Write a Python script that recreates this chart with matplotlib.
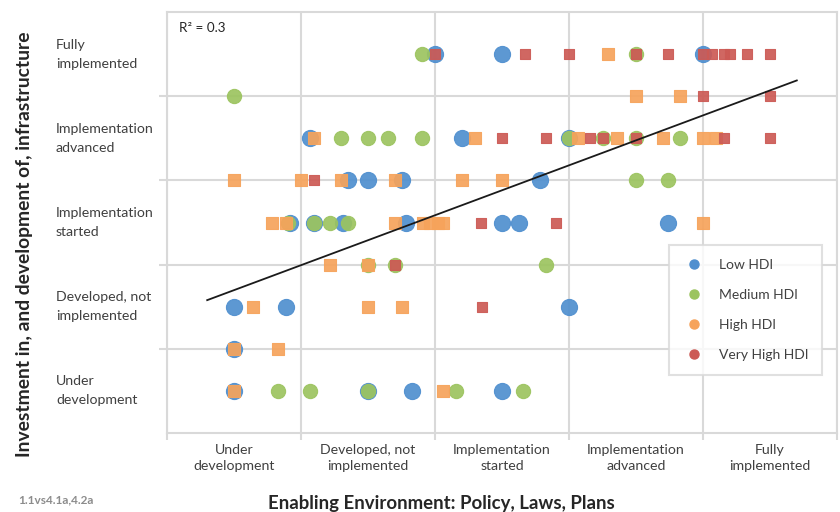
import matplotlib
matplotlib.use("Agg")
import matplotlib.pyplot as plt
from matplotlib.lines import Line2D

plt.rcParams['font.family'] = ['Lato', 'DejaVu Sans']

# category names (0.5 .. 4.5 on both axes)
x_cats = ["Under\ndevelopment", "Developed, not\nimplemented", "Implementation\nstarted",
          "Implementation\nadvanced", "Fully\nimplemented"]
y_cats = ["Under\ndevelopment", "Developed, not\nimplemented", "Implementation\nstarted",
          "Implementation\nadvanced", "Fully\nimplemented"]
cat_pos = [0.5, 1.5, 2.5, 3.5, 4.5]

# scores
low_x = [2.0, 2.5, 4.0,
         1.07, 2.2, 3.0,
         1.35, 1.5, 1.75, 2.78,
         0.92, 1.1, 1.31, 1.78, 2.5, 2.63, 3.74,
         0.5, 0.89, 3.0,
         0.5,
         0.5, 1.5, 1.83, 2.5]
low_y = [4.5, 4.5, 4.5,
         3.5, 3.5, 3.5,
         3.0, 3.0, 3.0, 3.0,
         2.5, 2.5, 2.5, 2.5, 2.5, 2.5, 2.5,
         1.5, 1.5, 1.5,
         1.0,
         0.5, 0.5, 0.5, 0.5]

med_x = [1.9, 3.5,
         0.5,
         1.3, 1.5, 1.65, 1.9, 3.0, 3.25, 3.5, 3.83,
         3.5, 3.74,
         0.9, 1.1, 1.22, 1.35,
         1.5, 1.7, 2.83,
         0.83, 1.07, 1.5, 2.16, 2.66]
med_y = [4.5, 4.5,
         4.0,
         3.5, 3.5, 3.5, 3.5, 3.5, 3.5, 3.5, 3.5,
         3.0, 3.0,
         2.5, 2.5, 2.5, 2.5,
         2.0, 2.0, 2.0,
         0.5, 0.5, 0.5, 0.5, 0.5]

high_x = [3.29,
          3.5, 3.83,
          1.1, 2.3, 3.07, 3.36, 3.7, 4.0, 4.1,
          0.5, 1.0, 1.3, 1.7, 2.2, 2.5,
          0.78, 0.89, 1.7, 1.91, 1.96, 2.02, 2.06, 4.0,
          1.22, 1.5,
          0.64, 1.5, 1.75,
          0.5, 0.83,
          0.5, 2.06]
high_y = [4.5,
          4.0, 4.0,
          3.5, 3.5, 3.5, 3.5, 3.5, 3.5, 3.5,
          3.0, 3.0, 3.0, 3.0, 3.0, 3.0,
          2.5, 2.5, 2.5, 2.5, 2.5, 2.5, 2.5, 2.5,
          2.0, 2.0,
          1.5, 1.5, 1.5,
          1.0, 1.0,
          0.5, 0.5]

vhigh_x = [2.0, 2.67, 3.0, 3.5, 3.74, 4.0, 4.07, 4.16, 4.2, 4.33, 4.5,
           4.0, 4.5,
           2.5, 2.83, 3.16, 3.25, 3.5, 4.16, 4.5,
           1.1,
           2.34, 2.9,
           1.7,
           2.35]
vhigh_y = [4.5, 4.5, 4.5, 4.5, 4.5, 4.5, 4.5, 4.5, 4.5, 4.5, 4.5,
           4.0, 4.0,
           3.5, 3.5, 3.5, 3.5, 3.5, 3.5, 3.5,
           3.0,
           2.5, 2.5,
           2.0,
           1.5]

# linear trend
trend_slope = 0.593
trend_icpt = 1.40
trend_x = [0.3, 4.7]
r2_text = "R² = 0.3"

series = [
    ("Low HDI", low_x, low_y, "#4f8fcf", "o", 135),
    ("Medium HDI", med_x, med_y, "#9cc45f", "o", 105),
    ("High HDI", high_x, high_y, "#f6a35b", "s", 75),
    ("Very High HDI", vhigh_x, vhigh_y, "#cc5a55", "s", 50),
]

fig = plt.figure(figsize=(8.4, 5.12), dpi=100)
ax = fig.add_axes([167 / 840, 79 / 512, 670 / 840, 421 / 512])

for name, xs, ys, col, mk, sz in series:
    ax.scatter(xs, ys, s=sz, c=col, marker=mk, edgecolors=col, linewidths=0.8,
               alpha=0.92, zorder=3)

ty = [trend_slope * v + trend_icpt for v in trend_x]
ax.plot(trend_x, ty, color="#1a1a1a", lw=1.3, zorder=4)

ax.set_xlim(0, 5)
ax.set_ylim(0, 5)

grid_col = "#d9d9d9"
ax.set_xticks([0, 1, 2, 3, 4, 5])
ax.set_yticks([1, 2, 3, 4])
ax.set_xticklabels([])
ax.set_yticklabels([])
ax.set_xticks(cat_pos, minor=True)
ax.set_yticks(cat_pos, minor=True)
ax.set_xticklabels(x_cats, minor=True, fontsize=10.2, color="#404040", linespacing=1.38)
ax.set_yticklabels(y_cats, minor=True, fontsize=10.2, color="#404040", linespacing=1.7,
                   ha="left", va="center")
ax.tick_params(axis="x", which="major", length=5, color=grid_col, width=1.5)
ax.tick_params(axis="y", which="major", length=6, color=grid_col, width=1.5)
ax.tick_params(axis="x", which="minor", length=0, pad=8)
ax.tick_params(axis="y", which="minor", length=0, pad=80)
ax.grid(True, which="major", color=grid_col, lw=1.5, zorder=0)
ax.set_axisbelow(True)
for sp in ax.spines.values():
    sp.set_color(grid_col)
    sp.set_linewidth(1.5)

ax.text(179, 484, r2_text, transform=None, fontsize=9.7, color="#262626",
        va="center", ha="left")

handles = [Line2D([], [], ls="", marker="o", ms=6.5, color=c) for _, _, _, c, _, _ in series]
leg = fig.legend(handles, [s[0] for s in series], loc="lower right",
                 bbox_to_anchor=(822 / 840, 137 / 512), fontsize=10,
                 frameon=True, fancybox=False, edgecolor=grid_col,
                 labelspacing=1.3, handletextpad=1.0, borderpad=1.0,
                 handlelength=1.6, borderaxespad=0)
leg.get_frame().set_linewidth(1.5)
for t in leg.get_texts():
    t.set_color("#404040")

fig.text(441 / 840, 8 / 512, "Enabling Environment: Policy, Laws, Plans",
         ha="center", va="center", fontsize=13.4, fontweight="bold", color="#262626")
fig.text(25 / 840, 1 - 244 / 512, "Investment in, and development of, infrastructure",
         ha="center", va="center", rotation=90, fontsize=13.9, fontweight="bold",
         color="#262626")
fig.text(18 / 840, 12 / 512, "1.1vs4.1a,4.2a", ha="left", va="center",
         fontsize=8.5, fontweight="bold", color="#8c8c8c")

fig.savefig("out.png", dpi=100)
